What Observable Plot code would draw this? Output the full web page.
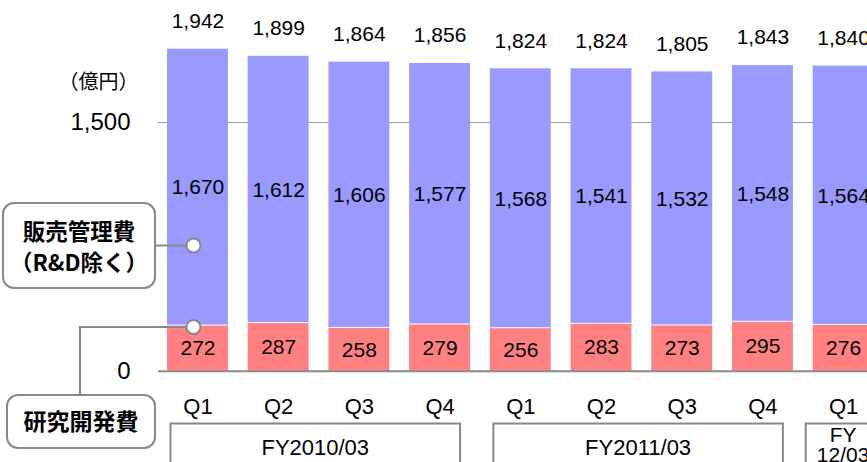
<!DOCTYPE html>
<html>
<head>
<meta charset="utf-8">
<script src="https://cdn.jsdelivr.net/npm/d3@7"></script>
<script src="https://cdn.jsdelivr.net/npm/@observablehq/plot@0.6"></script>
<style>
  html, body { margin: 0; padding: 0; background: #fff; overflow: hidden; }
  #chart { width: 867px; height: 462px; overflow: hidden; }
</style>
</head>
<body>
<div id="chart"></div>
<script>
// ---- data ----
const quarters    = ["Q1", "Q2", "Q3", "Q4", "Q1", "Q2", "Q3", "Q4", "Q1"];
const fiscalYears = ["FY2010/03", "FY2010/03", "FY2010/03", "FY2010/03",
                     "FY2011/03", "FY2011/03", "FY2011/03", "FY2011/03",
                     "FY2012/03"];
const rdValues    = [272, 287, 258, 279, 256, 283, 273, 295, 276];      // 研究開発費
const sgaValues   = [1670, 1612, 1606, 1577, 1568, 1541, 1532, 1548, 1564]; // 販売管理費（R&D除く）
const totalValues = [1942, 1899, 1864, 1856, 1824, 1824, 1805, 1843, 1840];
const groupYears  = ["FY2010/03", "FY2011/03", "FY2012/03"];
const groupTexts  = [["FY2010/03"], ["FY2011/03"], ["FY", "12/03"]];
const yTicks      = [0, 1500];
const unitLabel   = "（億円）";
const sgaLabel    = ["販売管理費", "（R&D除く）"];
const rdLabel     = "研究開発費";

const rows = quarters.map((q, i) => ({
  key: fiscalYears[i] + " " + q,
  q, fy: fiscalYears[i],
  rd: rdValues[i], sga: sgaValues[i], total: totalValues[i]
}));
const keys = rows.map(d => d.key);
const fmt = d3.format(",");
const qOf = new Map(rows.map(d => [d.key, d.q]));

const RED = "#FF8080", BLUE = "#9999FF", GRAY = "#888888";
const LATIN = "'Liberation Sans', Arial, sans-serif";
const CJK = "'Noto Sans CJK JP', 'Noto Sans', sans-serif";

const chart = Plot.plot({
  width: 867, height: 462,
  marginLeft: 158, marginRight: 0, marginTop: 0, marginBottom: 91,
  style: { fontFamily: LATIN, fontSize: "21px", background: "#fff", color: "#000" },
  x: { type: "band", domain: keys, range: [167, 873.6], paddingInner: 0.245, paddingOuter: 0, align: 0, round: false, label: null },
  y: { domain: [0, 1500], range: [370.7, 122], label: null },
  marks: [
    Plot.ruleY([1500], { stroke: "#999", strokeWidth: 1 }),
    Plot.barY(rows, { x: "key", y1: 0, y2: "rd", fill: RED }),
    Plot.barY(rows, { x: "key", y1: "rd", y2: d => d.rd + d.sga, fill: BLUE, insetBottom: 1 }),
    Plot.ruleY([0], { stroke: GRAY, strokeWidth: 2 }),
    Plot.text(rows, { x: "key", y: d => d.rd / 2, text: d => fmt(d.rd), fontSize: 21, fill: "#000" }),
    Plot.text(rows, { x: "key", y: d => d.rd + d.sga / 2, text: d => fmt(d.sga), fontSize: 21, fill: "#000" }),
    Plot.text(rows, { x: "key", y: "total", text: d => fmt(d.total), dy: -28, fontSize: 21, fill: "#000" }),
    Plot.axisY({ ticks: yTicks, tickSize: 0, tickPadding: 28, tickFormat: fmt, fontSize: 24 }),
    Plot.axisX({ tickSize: 0, tickPadding: 27, tickFormat: k => qOf.get(k), fontSize: 22 })
  ]
});
document.getElementById("chart").appendChild(chart);

// ---- annotations ----
const xs = chart.scale("x"), ys = chart.scale("y");
const bw = xs.bandwidth;
const svg = d3.select(chart);
const g = svg.append("g");

// group boxes
groupYears.forEach((fy, gi) => {
  const ks = rows.filter(d => d.fy === fy).map(d => d.key);
  const partial = ks.length < 4;
  const x1 = xs.apply(ks[0]) + (partial ? -7 : 3.5);
  const x2 = xs.apply(ks[ks.length - 1]) + bw + (partial ? 7 : -10);
  g.append("rect").attr("x", x1).attr("y", 423.5).attr("width", x2 - x1).attr("height", 60)
    .attr("fill", "none").attr("stroke", GRAY).attr("stroke-width", 2);
  const lines = groupTexts[gi];
  const ys0 = lines.length === 1 ? [447] : [434.5, 455];
  lines.forEach((t, li) => {
    g.append("text").attr("x", (x1 + x2) / 2).attr("y", ys0[li]).attr("dy", "0.35em")
      .attr("text-anchor", "middle").attr("font-family", LATIN).attr("font-size", lines.length === 1 ? 22 : 21)
      .attr("fill", "#000").text(t);
  });
});

// unit label
g.append("text").attr("x", 98.5).attr("y", 82).attr("dy", "0.35em").attr("text-anchor", "middle")
  .attr("font-family", CJK).attr("font-size", 20).attr("fill", "#000").text(unitLabel);

// marker positions
const cx = xs.apply(keys[0]) + bw / 2 - 4;
const cyTop = 245.5;
const cyRd = ys.apply(rdValues[0]) + 1.5;

// connectors
g.append("line").attr("x1", 155).attr("y1", cyTop).attr("x2", cx - 7).attr("y2", cyTop)
  .attr("stroke", GRAY).attr("stroke-width", 2);
g.append("path").attr("d", `M${cx - 7},${cyRd}H80V395`).attr("fill", "none")
  .attr("stroke", GRAY).attr("stroke-width", 2);

// label boxes
g.append("rect").attr("x", 3).attr("y", 203).attr("width", 152).attr("height", 85).attr("rx", 11)
  .attr("fill", "#fff").attr("stroke", GRAY).attr("stroke-width", 2);
g.append("rect").attr("x", 7).attr("y", 395).attr("width", 148).attr("height", 53).attr("rx", 11)
  .attr("fill", "#fff").attr("stroke", GRAY).attr("stroke-width", 2);
[[sgaLabel[0], 232.5], [sgaLabel[1], 263]].forEach(([t, y]) => {
  g.append("text").attr("x", 79).attr("y", y).attr("dy", "0.35em").attr("text-anchor", "middle")
    .attr("font-family", CJK).attr("font-weight", 700).attr("font-size", 22.5).attr("fill", "#000").text(t);
});
g.append("text").attr("x", 81).attr("y", 422).attr("dy", "0.35em").attr("text-anchor", "middle")
  .attr("font-family", CJK).attr("font-weight", 700).attr("font-size", 23).attr("fill", "#000").text(rdLabel);

// circles
[cyTop, cyRd].forEach(cy => {
  g.append("circle").attr("cx", cx).attr("cy", cy).attr("r", 7)
    .attr("fill", "#fff").attr("stroke", GRAY).attr("stroke-width", 2);
});
</script>
</body>
</html>
